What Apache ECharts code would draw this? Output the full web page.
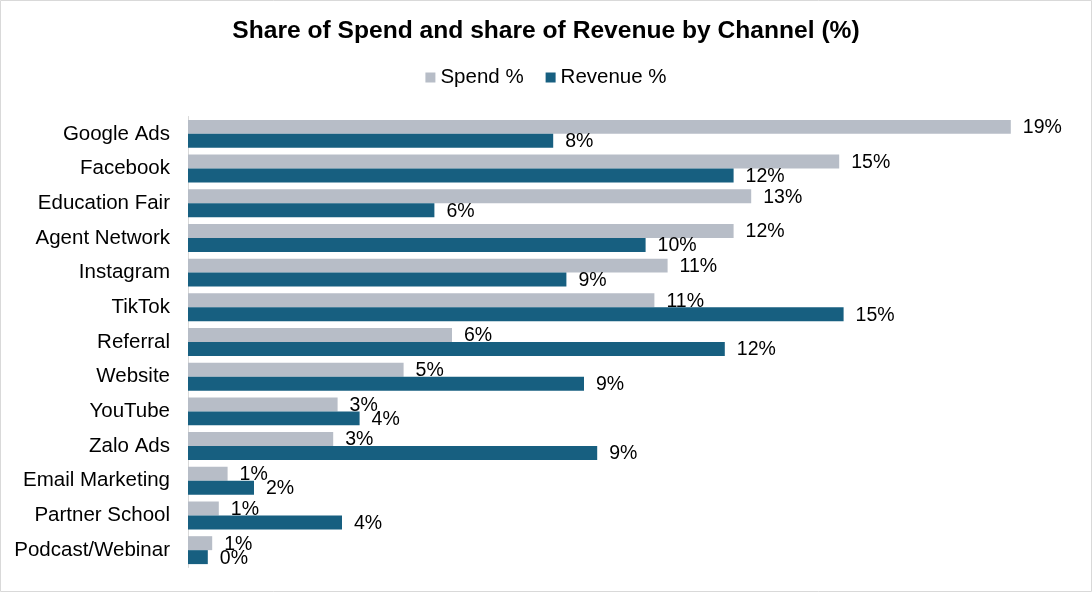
<!DOCTYPE html>
<html>
<head>
<meta charset="utf-8">
<script src="https://cdn.jsdelivr.net/npm/echarts@6/dist/echarts.min.js"></script>
<style>
  html, body { margin: 0; padding: 0; background: #fff; }
  #chart { width: 1092px; height: 592px; }
</style>
</head>
<body>
<div id="chart"></div>
<script>
// ── Data ─────────────────────────────────────────────────────────────────────
const channels = [
  'Google Ads', 'Facebook', 'Education Fair', 'Agent Network', 'Instagram',
  'TikTok', 'Referral', 'Website', 'YouTube', 'Zalo Ads',
  'Email Marketing', 'Partner School', 'Podcast/Webinar',
];
const spendPct   = [18.7, 14.8, 12.8, 12.4, 10.9, 10.6, 6.0, 4.9, 3.4, 3.3, 0.9, 0.7, 0.55];
const revenuePct = [8.3, 12.4, 5.6, 10.4, 8.6, 14.9, 12.2, 9.0, 3.9, 9.3, 1.5, 3.5, 0.45];

const FONT = "'Liberation Sans', Arial, sans-serif";

const pctLabel = {
  show: true,
  position: 'right',
  distance: 12,
  offset: [0, 1],
  color: '#000',
  fontFamily: FONT,
  fontSize: 19.5,
  formatter: p => Math.round(p.value) + '%',
};

const chart = echarts.init(document.getElementById('chart'), null, { renderer: 'canvas' });

chart.setOption({
  animation: false,
  backgroundColor: '#fff',
  title: {
    text: 'Share of Spend and share of Revenue by Channel (%)',
    left: 'center',
    top: 14,
    textStyle: { fontFamily: FONT, fontSize: 24.6, fontWeight: 'bold', color: '#000' },
  },
  legend: {
    top: 62,
    left: 'center',
    itemWidth: 10,
    itemHeight: 10,
    itemGap: 22,
    icon: 'rect',
    textStyle: { fontFamily: FONT, fontSize: 20.5, color: '#000' },
    data: ['Spend %', 'Revenue %'],
  },
  grid: { left: 188, right: 24, top: 116.5, bottom: 24.5, containLabel: false },
  xAxis: {
    type: 'value',
    min: 0,
    max: 20,
    show: false,
  },
  yAxis: {
    type: 'category',
    data: channels,
    inverse: true,
    axisLine: { show: true, lineStyle: { color: '#d9d9d9', width: 1 } },
    axisTick: { show: false },
    axisLabel: { margin: 18, color: '#000', fontFamily: FONT, fontSize: 20.5 },
  },
  series: [
    {
      name: 'Spend %',
      type: 'bar',
      data: spendPct,
      barGap: '0%',
      barCategoryGap: '19.5%',
      itemStyle: { color: '#b7bdc7' },
      label: pctLabel,
    },
    {
      name: 'Revenue %',
      type: 'bar',
      data: revenuePct,
      itemStyle: { color: '#175f80' },
      label: pctLabel,
    },
  ],
  graphic: [{
    type: 'rect',
    silent: true,
    shape: { x: 0.5, y: 0.5, width: 1091, height: 591 },
    style: { fill: 'none', stroke: '#d9d9d9', lineWidth: 1 },
  }],
});
</script>
</body>
</html>
